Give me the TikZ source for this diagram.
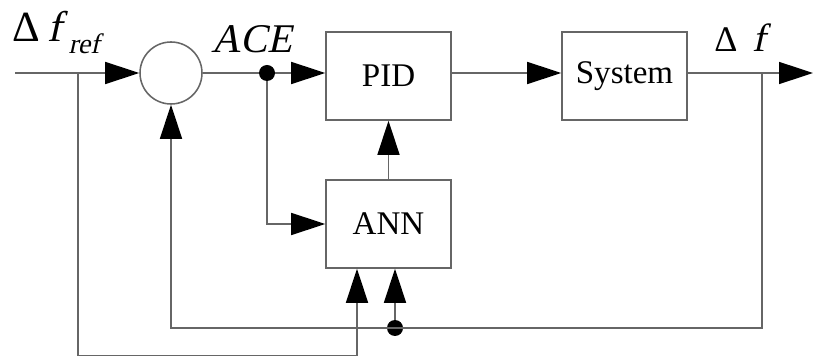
\documentclass[tikz,border=0pt]{standalone}
\usepackage{fontspec}
\setmainfont{Liberation Serif}[ItalicFont={Liberation Serif},
  ItalicFeatures={FakeSlant=0.22}]
\usetikzlibrary{arrows.meta}
\tikzset{
  >={Triangle[length=8.5mm,width=5.5mm,color=black]},
  {wire/.style} ={draw=black!60,line width=1.1pt},
  {block/.style} ={rectangle,draw=black!60,line width=1.1pt,fill=white,
                  minimum width=3.125cm,minimum height=2.2cm,
                  font=\fontsize{23.5}{28}\selectfont},
  {sum/.style} ={circle,draw=black!60,line width=1.1pt,inner sep=0,
                  minimum size=1.55cm},
  {joint/.style} ={circle,fill=black,inner sep=0,minimum size=4mm},
  {sig/.style} ={inner sep=0,anchor=base west},
}

\begin{document}
\begin{tikzpicture}[x=.25cm,y=.25cm]
\useasboundingbox (0,0) rectangle (81.3,35.8);
% points on the lines
\coordinate (in) at (1.5,28.5);
\coordinate (br1) at (7.8,28.5);
\coordinate (br2) at (76.2,28.5);
\coordinate (out) at (81.3,28.5);
\coordinate (low) at (35.7,0.25);
% blocks
\node[sum] (sum) at (17.1,28.5) {};
\node[joint] (ace) at (26.7,28.5) {};
\node[block] (pid) at (38.85,28.2) {PID};
\node[block] (sys) at (62.45,28.2) {System};
\node[block] (ann) at (38.85,13.4) {ANN};
\node[joint] (fb) at (39.5,3.0) {};
% signal labels
\node[sig] (lref) at (1.2,31.6) {\fontsize{30.6}{34}\selectfont Δ\,\textit{f}\,%
  \raisebox{-2.8mm}{\fontsize{20}{24}\selectfont\itshape ref}};
\node[sig] (lace) at (21.1,30.5) {\fontsize{29}{34}\selectfont\itshape ACE};
\node[sig] (lout) at (71.4,30.6) {\fontsize{25.6}{30}\selectfont Δ\,
  \fontsize{28}{32}\selectfont\itshape f};
% connectors
\draw[wire,->] (in) -- (sum);
\draw[wire] (sum) -- (ace);
\draw[wire,->] (ace) -- (pid.west |- ace);
\draw[wire,->] (pid.east |- ace) -- (sys.west |- ace);
\draw[wire,->] (sys.east |- ace) -- (out);
\draw[wire,->] (ace) |- (ann.west);
\draw[wire,->] (ann) -- (pid);
\draw[wire,->] (br2) |- (fb.center) -| (sum);
\draw[wire,->] (fb) -- (ann.south -| fb);
\draw[wire,->] (br1) |- (low) -- (ann.south -| low);
\end{tikzpicture}
\end{document}
